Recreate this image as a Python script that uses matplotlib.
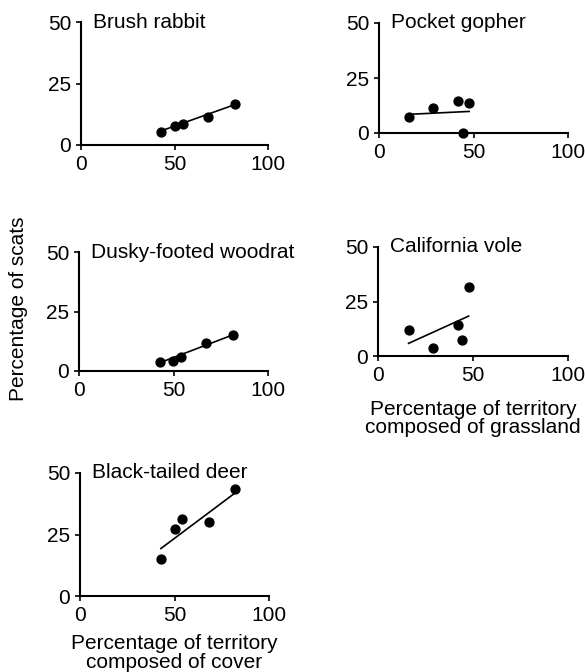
import numpy as np
import matplotlib
matplotlib.use("Agg")
import matplotlib.pyplot as plt

plt.rcParams['font.family'] = ['Liberation Sans', 'DejaVu Sans']

# values (percentage of territory, percentage of scats)
rabbit_x = [42.7, 50.2, 54.3, 68.0, 82.2]
rabbit_y = [5.4, 7.7, 8.5, 11.5, 16.6]
rabbit_fit = ([42.7, 82.2], [5.7, 16.4])

gopher_x = [15.8, 28.7, 41.9, 47.7, 44.2]
gopher_y = [7.5, 11.2, 14.4, 13.8, 0.0]
gopher_fit = ([16.2, 47.7], [8.5, 9.8])

woodrat_x = [42.8, 49.8, 53.9, 67.4, 81.5]
woodrat_y = [3.6, 4.2, 5.9, 11.6, 15.2]
woodrat_fit = ([42.8, 81.5], [3.5, 15.2])

vole_x = [16.1, 28.9, 42.1, 44.4, 47.7]
vole_y = [12.1, 3.8, 14.1, 7.3, 31.8]
vole_fit = ([16.1, 47.7], [5.8, 18.3])

deer_x = [42.8, 50.5, 54.2, 68.1, 81.9]
deer_y = [15.0, 27.1, 31.5, 30.2, 43.5]
deer_fit = ([42.8, 81.9], [19.3, 41.8])

W, H = 585, 672
FS = 15
fig = plt.figure(figsize=(W / 100, H / 100), dpi=100)


def panel(box, name, xs, ys, fit):
    l, r, t, b = box
    ax = fig.add_axes([l / W, 1 - b / H, (r - l) / W, (b - t) / H])
    ax.plot(xs, ys, 'o', color='black', ms=6.4, clip_on=False, zorder=3)
    ax.plot(fit[0], fit[1], color='black', lw=1.2)
    ax.set_xlim(0, 100)
    ax.set_ylim(0, 50)
    ax.set_xticks([0, 50, 100])
    ax.set_yticks([0, 25, 50])
    for s in ['top', 'right']:
        ax.spines[s].set_visible(False)
    for s in ['left', 'bottom']:
        ax.spines[s].set_linewidth(1.5)
    ax.tick_params(labelsize=FS, width=1.2, length=3.5, pad=3.5)
    ax.text(6.5, 50, name, fontsize=FS, va='center', ha='left')
    return ax


panel((81, 268, 22, 145), "Brush rabbit", rabbit_x, rabbit_y, rabbit_fit)
panel((379, 568, 23, 133), "Pocket gopher", gopher_x, gopher_y, gopher_fit)
panel((79, 268, 252, 371), "Dusky-footed woodrat", woodrat_x, woodrat_y, woodrat_fit)
ax4 = panel((378, 568, 247, 356), "California vole", vole_x, vole_y, vole_fit)
ax5 = panel((80, 269, 473, 596), "Black-tailed deer", deer_x, deer_y, deer_fit)

ax4.set_xlabel("Percentage of territory\ncomposed of grassland", fontsize=FS, linespacing=0.95, labelpad=11)
ax5.set_xlabel("Percentage of territory\ncomposed of cover", fontsize=FS, linespacing=0.95, labelpad=7)

fig.text(19 / W, 1 - 309 / H, "Percentage of scats", rotation=90, fontsize=FS,
         ha='center', va='center')

fig.savefig("out.png", dpi=100)
